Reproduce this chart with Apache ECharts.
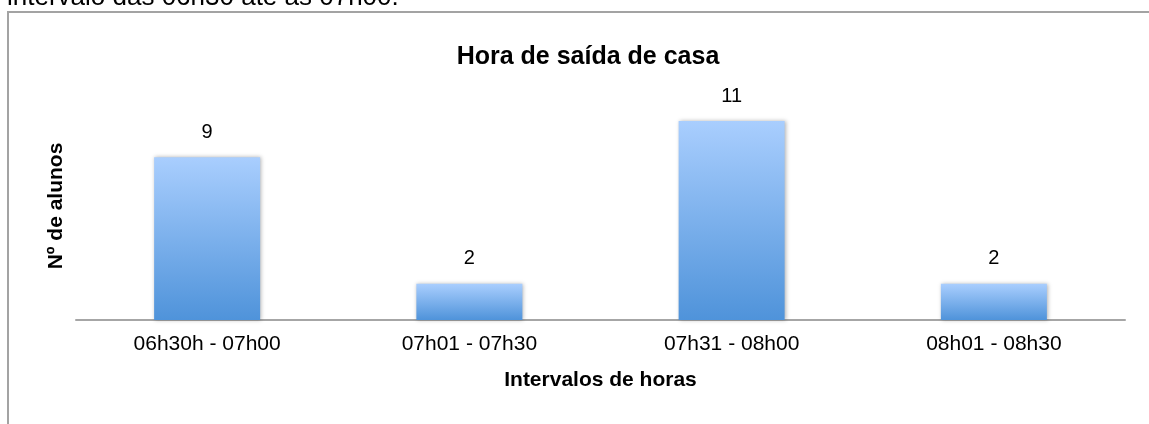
<!DOCTYPE html>
<html>
<head>
<meta charset="utf-8">
<title>Hora de saída de casa</title>
<script src="https://cdn.jsdelivr.net/npm/echarts@6/dist/echarts.min.js"></script>
<style>
    html, body { margin: 0; padding: 0; background: #fff; }
    #chart { width: 1149px; height: 424px; }
</style>
</head>
<body>
<div id="chart"></div>
<script>
    // dados do gráfico
    var categorias = ['06h30h - 07h00', '07h01 - 07h30', '07h31 - 08h00', '08h01 - 08h30'];
    var alunos = [9, 2, 11, 2];
    var titulo = 'Hora de saída de casa';
    var nomeEixoX = 'Intervalos de horas';
    var nomeEixoY = 'Nº de alunos';
    var textoAcima = 'intervalo das 06h30 até às 07h00.';

    var fonte = '"Liberation Sans", Arial, Helvetica, sans-serif';

    var grafico = echarts.init(document.getElementById('chart'));

    var opcao = {
        animation: false,
        textStyle: { fontFamily: fonte },
        title: {
            text: titulo,
            left: 583,
            top: 40,
            textAlign: 'center',
            textStyle: {
                fontFamily: fonte,
                fontSize: 25,
                fontWeight: 'bold',
                color: '#000'
            }
        },
        graphic: [{
            type: 'rect',
            shape: { x: 8, y: 12, width: 1200, height: 500 },
            style: { fill: 'none', stroke: '#a3a3a3', lineWidth: 2 },
            silent: true
        }, {
            // resto do parágrafo acima do gráfico, cortado pela imagem
            type: 'text',
            x: 7,
            y: -15,
            style: {
                text: textoAcima,
                fontFamily: fonte,
                fontSize: 26,
                fill: '#000',
                verticalAlign: 'top'
            }
        }, {
            type: 'text',
            x: 56,
            y: 206,
            rotation: Math.PI / 2,
            style: {
                text: nomeEixoY,
                fontFamily: fonte,
                fontSize: 21,
                fontWeight: 'bold',
                fill: '#000',
                align: 'center',
                verticalAlign: 'middle'
            }
        }],
        grid: {
            left: 76,
            right: 24,
            top: 103,
            bottom: 104
        },
        xAxis: {
            type: 'category',
            data: categorias,
            name: nomeEixoX,
            nameLocation: 'middle',
            nameGap: 50,
            nameTextStyle: {
                fontFamily: fonte,
                fontSize: 21,
                fontWeight: 'bold',
                color: '#000'
            },
            axisLine: { lineStyle: { color: '#a6a6a6', width: 2 } },
            axisTick: { show: false },
            axisLabel: {
                margin: 14,
                fontFamily: fonte,
                fontSize: 21,
                color: '#000'
            }
        },
        yAxis: {
            type: 'value',
            min: 0,
            max: 12,
            interval: 1,
            show: false,
            splitLine: { show: false }
        },
        series: [{
            type: 'bar',
            data: alunos,
            barWidth: 106,
            itemStyle: {
                color: new echarts.graphic.LinearGradient(0, 0, 0, 1, [
                    { offset: 0, color: '#a9cefe' },
                    { offset: 1, color: '#4f93da' }
                ]),
                shadowColor: 'rgba(0,0,0,0.3)',
                shadowBlur: 4,
                shadowOffsetX: 1,
                shadowOffsetY: 0
            },
            label: {
                show: true,
                position: 'top',
                distance: 15,
                fontFamily: fonte,
                fontSize: 20,
                color: '#000'
            }
        }]
    };

    grafico.setOption(opcao);
</script>
</body>
</html>
